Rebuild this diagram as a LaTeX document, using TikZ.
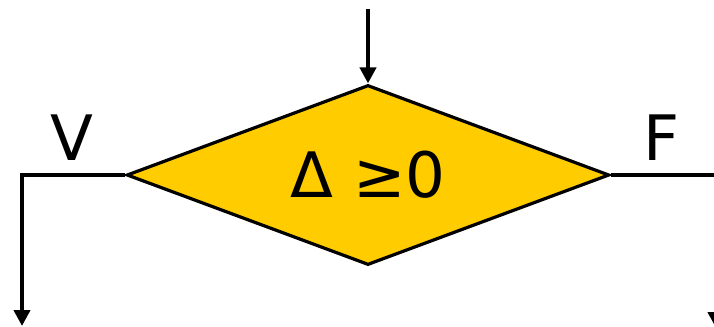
\documentclass[tikz,border=0pt]{standalone}
\usepackage{fontspec}
\setmainfont{DejaVu Sans}
\usepackage{xcolor}
\usetikzlibrary{arrows.meta,shapes.geometric}
\definecolor{testyellow}{HTML}{FFCC00}

\tikzset{
  flowline/.style={line width=3pt,line join=miter},
  test/.style={diamond,draw,fill=testyellow,line width=2.4pt,aspect=2.68,
    minimum width=362pt,minimum height=135pt,inner sep=0pt,
    font=\fontsize{47}{52}\selectfont},
  branch/.style={font=\fontsize{47}{52}\selectfont,inner sep=0pt}
}

\begin{document}
\begin{tikzpicture}[x=0.75pt,y=-0.75pt,>={Triangle[length=12pt,width=12pt]}]
  \useasboundingbox (0,0) rectangle (714,326);

  \node[test] (delta) at (368,175) {Δ ≥0};
  \coordinate (in) at (368,9);
  \coordinate (vcorner) at (22,175);
  \coordinate (vout) at (22,326);
  \coordinate (fcorner) at (716,175);
  \coordinate (fout) at (716,328);

  \node[branch] (vlabel) at (72,138) {V};
  \node[branch] (flabel) at (662,138) {F};

  \draw[flowline,->] (in) -- (delta.north);
  \draw[flowline,->] (delta.west) -- (vcorner) -- (vout);
  \draw[flowline,->] (delta.east) -- (fcorner) -- (fout);
\end{tikzpicture}
\end{document}
